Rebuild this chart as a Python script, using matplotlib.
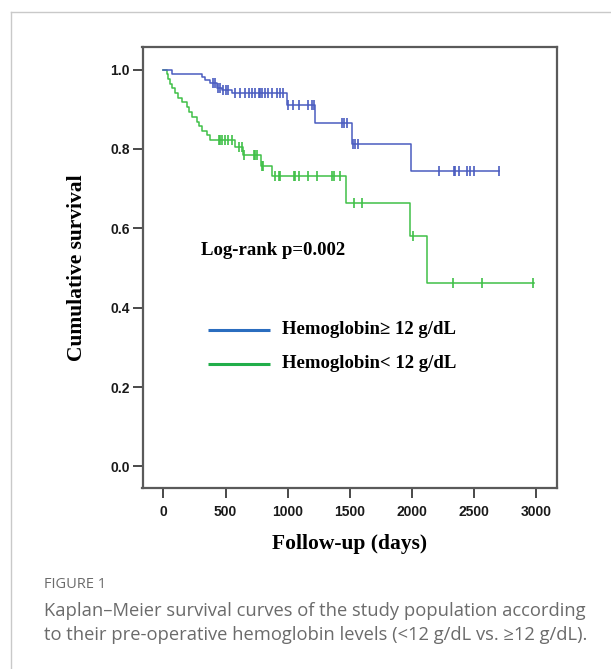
import numpy as np
import matplotlib
matplotlib.use("Agg")
import matplotlib.pyplot as plt
from matplotlib.lines import Line2D

# ---------------- data ----------------
blue_times = [0, 72, 309, 336, 376, 430, 470, 551, 993, 1221, 1516, 1994, 2697]
blue_surv = [1.0, 0.989, 0.982, 0.974, 0.965, 0.954, 0.948, 0.940, 0.910, 0.866, 0.813, 0.744, 0.744]
blue_censor = [400, 415, 440, 455, 480, 500, 520, 577, 613, 658, 685, 712, 738, 765, 779,
               792, 819, 845, 872, 913, 939, 966, 1006, 1046, 1087, 1167, 1194, 1215,
               1436, 1450, 1476, 1527, 1545, 1568, 2214, 2335, 2350, 2375, 2442, 2469,
               2496, 2697]

green_times = [0, 27, 40, 54, 72, 94, 116, 148, 188, 209, 233, 269, 287, 309, 349, 376,
               577, 644, 786, 872, 1471, 1986, 2125, 2980]
green_surv = [1.0, 0.988, 0.976, 0.964, 0.953, 0.941, 0.929, 0.917, 0.905, 0.893, 0.881,
              0.869, 0.857, 0.846, 0.834, 0.822, 0.805, 0.784, 0.757, 0.732, 0.663,
              0.581, 0.463, 0.463]
green_censor = [443, 456, 470, 497, 523, 551, 604, 631, 652, 725, 738, 752, 792, 805,
                899, 926, 939, 1047, 1060, 1087, 1167, 1235, 1356, 1369, 1422, 1530,
                1597, 2012, 2329, 2563, 2978]

x_ticks = [0, 500, 1000, 1500, 2000, 2500, 3000]
y_ticks = [0.0, 0.2, 0.4, 0.6, 0.8, 1.0]
legend_labels = ["Hemoglobin\u2265 12 g/dL", "Hemoglobin< 12 g/dL"]
annotation = "Log-rank p=0.002"
x_label = "Follow-up (days)"
y_label = "Cumulative survival"
caption_title = "FIGURE 1"
caption_lines = ["Kaplan\u2013Meier survival curves of the study population according",
                 "to their pre-operative hemoglobin levels (<12 g/dL vs. \u226512 g/dL)."]

blue_line = "#4a5cc0"
green_line = "#40c048"
blue_leg = "#2a6dbf"
green_leg = "#22ae4a"

W, H = 611, 669
fig = plt.figure(figsize=(W / 100, H / 100), dpi=100)
fig.patch.set_facecolor("white")

# outer card border
fig.add_artist(Line2D([11 / W, 11 / W], [0, 1 - 12 / H], transform=fig.transFigure,
                      color="#c9c9c9", lw=1.0))
fig.add_artist(Line2D([11 / W, 1], [1 - 12 / H, 1 - 12 / H], transform=fig.transFigure,
                      color="#c9c9c9", lw=1.0))

ax_l, ax_r, ax_t, ax_b = 142.5, 557.3, 46.7, 488.0
ax = fig.add_axes([ax_l / W, 1 - ax_b / H, (ax_r - ax_l) / W, (ax_b - ax_t) / H])

def censor_levels(times, surv, cens):
    idx = np.searchsorted(np.array(times), np.array(cens), side="right") - 1
    return np.array(surv)[idx]

ax.step(green_times, green_surv, where="post", color=green_line, lw=1.1)
ax.plot(green_censor, censor_levels(green_times, green_surv, green_censor), ls="none",
        marker="|", ms=7, mew=1.2, color=green_line)
ax.step(blue_times, blue_surv, where="post", color=blue_line, lw=1.1)
ax.plot(blue_censor, censor_levels(blue_times, blue_surv, blue_censor), ls="none",
        marker="|", ms=7, mew=1.2, color=blue_line)

ax.set_xlim(-169, 3170)
ax.set_ylim(-0.0545, 1.0575)
ax.set_xticks(x_ticks)
ax.set_yticks(y_ticks)
ax.set_xticklabels([str(v) for v in x_ticks])
ax.set_yticklabels([f"{v:.1f}" for v in y_ticks])

for s in ax.spines.values():
    s.set_color("#5a5a5a")
    s.set_linewidth(1.6)
ax.tick_params(direction="out", length=7, width=1.3, color="#3a3a3a", pad=2)
ax.tick_params(axis="x", pad=5)
for lab in ax.get_xticklabels() + ax.get_yticklabels():
    lab.set_fontfamily("Liberation Sans")
    lab.set_fontweight("bold")
    lab.set_fontsize(10)
    lab.set_color("#1a1a1a")

serif = ["Liberation Serif", "DejaVu Serif"]
ax.set_xlabel(x_label, fontfamily=serif, fontweight="bold", fontsize=15.5, labelpad=11)
ax.set_ylabel(y_label, fontfamily=serif, fontweight="bold", fontsize=15.5, labelpad=17)

# annotation
ax.text(305, 0.543, annotation, fontfamily=serif, fontweight="bold", fontsize=13.5,
        va="center", ha="left", transform=ax.transData)

# legend (manual, inside axes)
leg_y = [0.3445, 0.2585]
for yy, col, lab in zip(leg_y, [blue_leg, green_leg], legend_labels):
    ax.plot([360, 855], [yy, yy], color=col, lw=2.2, solid_capstyle="butt")
    ax.text(955, yy, lab, fontfamily=serif, fontweight="bold", fontsize=13.5,
            va="center", ha="left")

# caption
fig.text(44 / W, 1 - 585 / H, caption_title, fontfamily="Open Sans", fontsize=10.5,
         color="#6b6b6b", va="center", ha="left")
for i, line in enumerate(caption_lines):
    fig.text(44 / W, 1 - (611 + 23.5 * i) / H, line, fontfamily="Open Sans",
             fontsize=13.2, color="#6b6b6b", va="center", ha="left")

fig.savefig("out.png", dpi=100, facecolor="white")
